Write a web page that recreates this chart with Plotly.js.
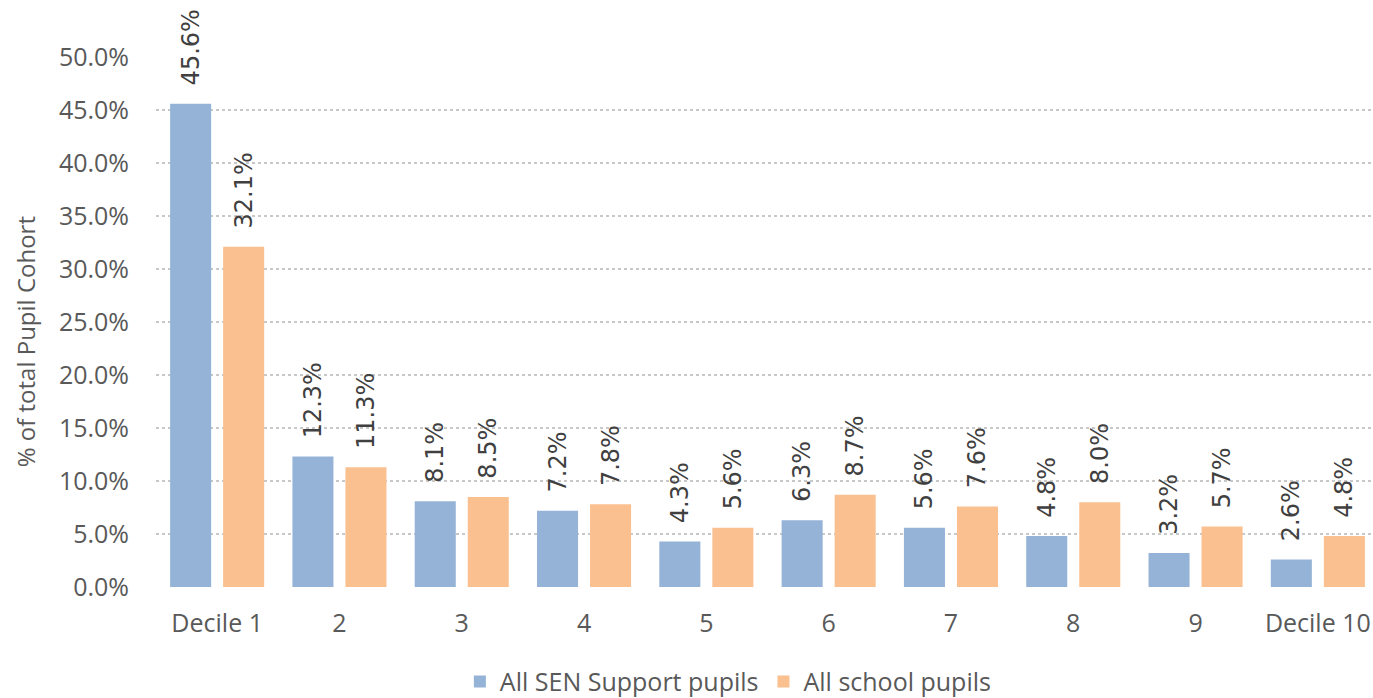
<!DOCTYPE html>
<html>
<head>
<meta charset="utf-8">
<script src="https://cdn.plot.ly/plotly-3.0.1.min.js"></script>
<style>
html,body{margin:0;padding:0;overflow:hidden;background:#fff;}
#chart{width:1380px;height:720px;}
</style>
</head>
<body>
<div id="chart"></div>
<script>
const categories = ["Decile 1","2","3","4","5","6","7","8","9","Decile 10"];
const senSupport = [45.6, 12.3, 8.1, 7.2, 4.3, 6.3, 5.6, 4.8, 3.2, 2.6];
const allPupils = [32.1, 11.3, 8.5, 7.8, 5.6, 8.7, 7.6, 8.0, 5.7, 4.8];
const seriesNames = ["All SEN Support pupils", "All school pupils"];
const yTitle = "% of total Pupil Cohort";

const labelFont = {family: "DejaVu Sans", size: 24, color: "#404040"};
function barTrace(vals, name, color){
  return {
    type: "bar", x: categories, y: vals, name: name,
    marker: {color: color},
    texttemplate: "\u00A0\u00A0%{y:.1f}%", textposition: "outside", textangle: -90,
    textfont: labelFont, constraintext: "none", cliponaxis: false,
    hoverinfo: "skip"
  };
}
const data = [
  barTrace(senSupport, seriesNames[0], "#95b3d7"),
  barTrace(allPupils, seriesNames[1], "#fac090")
];
const tickFont = {family: "Open Sans", size: 25, color: "#595959"};
const layout = {
  width: 1380, height: 720,
  margin: {l: 156, r: 1, t: 57, b: 133},
  paper_bgcolor: "#fff", plot_bgcolor: "#fff",
  barmode: "group", bargap: 0.133, bargroupgap: 0.226,
  showlegend: true,
  legend: {orientation: "h", x: 0.468, xanchor: "center", y: -0.179, yanchor: "middle",
           font: tickFont, traceorder: "normal", itemwidth: 30},
  xaxis: {type: "category", tickfont: tickFont, showgrid: false, zeroline: false,
          showline: false, ticks: "", ticklabelstandoff: 19, automargin: false},
  yaxis: {range: [0, 50], dtick: 5, tickformat: ".1f", ticksuffix: "%",
          tickfont: tickFont, showgrid: true, gridcolor: "#c8c8c8", griddash: "dot", gridwidth: 1.5,
          zeroline: false, showline: false, ticks: "", ticklabelstandoff: 26, automargin: false},
  annotations: [{
    text: yTitle, xref: "paper", yref: "paper", x: -0.107, y: 0.462,
    xanchor: "center", yanchor: "middle", textangle: -90, showarrow: false,
    font: {family: "Open Sans", size: 24, color: "#595959"}
  }]
};
Plotly.newPlot("chart", data, layout, {displayModeBar: false, staticPlot: true});
</script>
</body>
</html>
